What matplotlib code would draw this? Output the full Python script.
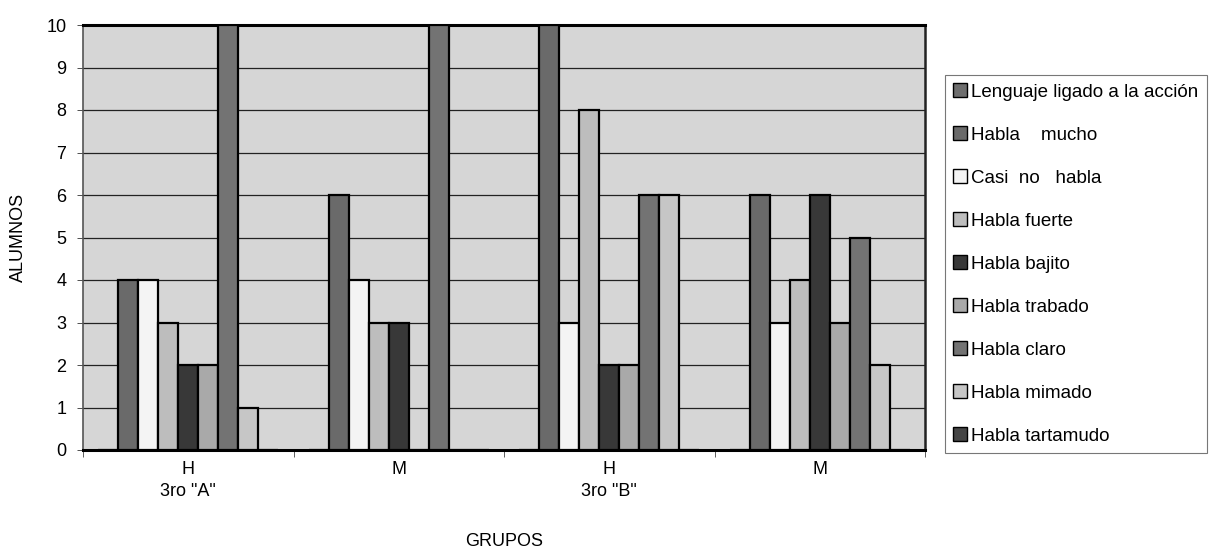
import numpy as np
import matplotlib.pyplot as plt
from matplotlib.patches import Patch

plt.rcParams['font.family'] = ['Liberation Sans', 'DejaVu Sans']

# data
grupos = ['H\n3ro "A"', 'M', 'H\n3ro "B"', 'M']
series = ['Lenguaje ligado a la acción', 'Habla    mucho', 'Casi  no   habla',
          'Habla fuerte', 'Habla bajito', 'Habla trabado', 'Habla claro',
          'Habla mimado', 'Habla tartamudo']
lenguaje = [0, 0, 0, 0]
mucho = [4, 6, 10, 6]
casi_no = [4, 4, 3, 3]
fuerte = [3, 3, 8, 4]
bajito = [2, 3, 2, 6]
trabado = [2, 0, 2, 3]
claro = [10, 10, 6, 5]
mimado = [1, 0, 6, 2]
tartamudo = [0, 0, 0, 0]
valores = [lenguaje, mucho, casi_no, fuerte, bajito, trabado, claro, mimado, tartamudo]

colores = ['#6e6e6e', '#6a6a6a', '#f4f4f4', '#bdbdbd', '#383838',
           '#a9a9a9', '#737373', '#c6c6c6', '#454545']

fig = plt.figure(figsize=(12.32, 5.55), dpi=100)
ax = fig.add_axes([83/1232, 105/555, 842/1232, 425/555])
ax.set_facecolor('#d6d6d6')

x = np.arange(len(grupos))
w = 1 / (len(series) + 1.5)
for i, vals in enumerate(valores):
    ax.bar(x + (i - 4) * w, vals, w, color=colores[i], edgecolor='black',
           linewidth=1.6, zorder=3)

ax.set_xlim(-0.5, 3.5)
ax.set_ylim(0, 10)
ax.set_yticks(range(11))
ax.yaxis.grid(True, color='#222222', linewidth=0.9, zorder=0)
ax.tick_params(axis='y', labelsize=13, length=4, width=0.6, colors='#333333',
               labelcolor='black', pad=8)

# category boundaries as ticks, labels at the centres
ax.set_xticks(np.arange(-0.5, 4, 1))
ax.set_xticklabels([])
ax.tick_params(axis='x', which='major', length=5, width=0.6, colors='#444444')
ax.set_xticks(x, minor=True)
ax.set_xticklabels(grupos, minor=True, fontsize=13, linespacing=1.35)
ax.tick_params(axis='x', which='minor', length=0, pad=8)

for s in ['left', 'right']:
    ax.spines[s].set_linewidth(1.2)
    ax.spines[s].set_color('#555555')
ax.spines['right'].set_color('#222222')
ax.spines['right'].set_linewidth(1.8)
ax.spines['top'].set_linewidth(2.2)
ax.spines['bottom'].set_linewidth(2.2)

ax.set_ylabel('ALUMNOS', fontsize=13, labelpad=14)
ax.set_xlabel('GRUPOS', fontsize=13, labelpad=24)

handles = [Patch(facecolor=colores[i], edgecolor='black', linewidth=1.0)
           for i in range(len(series))]
leg = fig.legend(handles, series, loc='upper left',
                 bbox_to_anchor=(945/1232, 1 - 75/555), fontsize=13.5,
                 frameon=True, fancybox=False, borderpad=0.45,
                 labelspacing=1.38, handlelength=0.7, handleheight=0.7,
                 handletextpad=0.25, borderaxespad=0)
leg.get_frame().set_edgecolor('#555555')
leg.get_frame().set_linewidth(0.8)

fig.savefig('out.png', dpi=100)
